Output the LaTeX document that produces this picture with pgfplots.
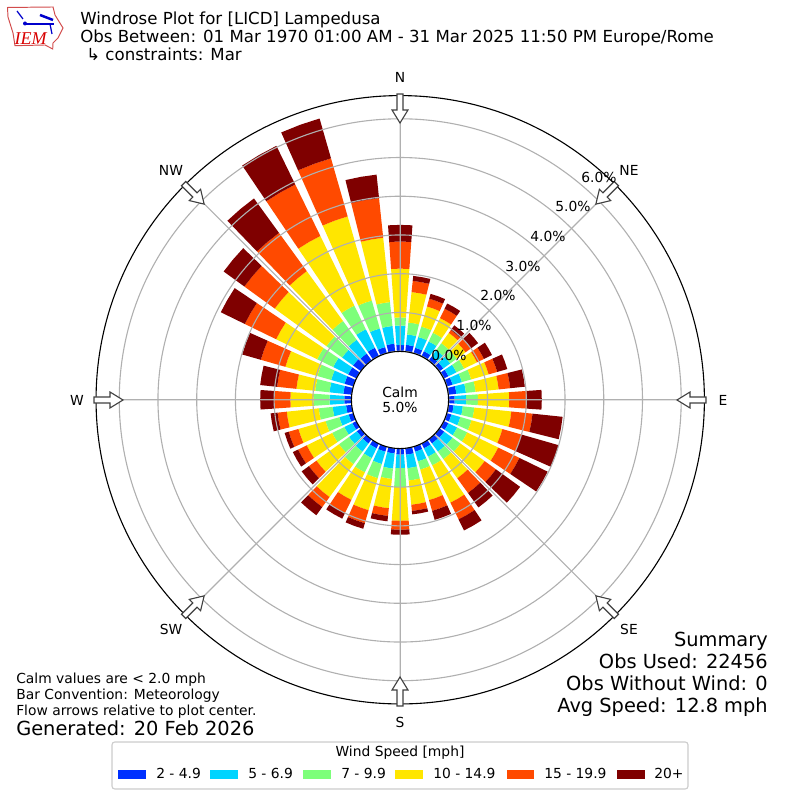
\documentclass[border=0pt]{standalone}
\usepackage{fontspec}
\setmainfont{DejaVu Sans}
\newfontfamily\logofont{Liberation Serif}
\usepackage{pgfplots}
\usepackage{pgfplotstable}
\pgfplotsset{compat=1.18}
\usepgfplotslibrary{polar}
\definecolor{wblue}{RGB}{0,48,255}
\definecolor{wcyan}{RGB}{0,212,255}
\definecolor{wgreen}{RGB}{125,255,122}
\definecolor{wyellow}{RGB}{255,230,0}
\definecolor{worange}{RGB}{255,74,0}
\definecolor{wdark}{RGB}{127,0,0}
\definecolor{gridgray}{RGB}{176,176,176}
% cumulative percent at the top of each speed bin, by direction
\pgfplotstableread{
dir b1 b2 b3 b4 b5 b6
0 0.16 0.66 0.87 2.13 2.83 3.26
10 0.17 0.44 0.75 1.54 1.83 1.96
20 0.14 0.43 0.71 1.25 1.46 1.59
30 0.14 0.42 0.67 1.09 1.36 1.51
40 0.12 0.33 0.55 0.88 0.97 1.12
50 0.12 0.34 0.55 0.83 1.00 1.23
60 0.13 0.36 0.58 0.95 1.15 1.38
70 0.15 0.40 0.65 1.12 1.35 1.62
80 0.20 0.45 0.70 1.30 1.60 1.98
90 0.15 0.45 0.75 1.56 2.02 2.40
100 0.13 0.37 0.67 1.63 2.18 2.96
110 0.12 0.36 0.66 1.49 2.00 3.00
120 0.13 0.38 0.67 1.56 2.17 2.98
130 0.15 0.41 0.67 1.44 1.80 2.57
140 0.14 0.40 0.64 1.25 1.72 2.18
150 0.14 0.38 0.63 1.70 2.18 2.50
160 0.14 0.40 0.62 1.44 1.73 1.97
170 0.17 0.52 0.84 1.47 1.63 1.72
180 0.16 0.51 1.00 1.87 2.10 2.23
190 0.14 0.53 0.80 1.56 1.76 1.90
200 0.14 0.47 0.85 1.71 2.06 2.21
210 0.14 0.42 0.83 1.62 2.00 2.16
220 0.14 0.40 0.80 1.85 2.17 2.43
230 0.13 0.38 0.70 1.42 1.66 1.89
240 0.12 0.35 0.70 1.43 1.68 1.83
250 0.13 0.38 0.75 1.48 1.74 1.85
260 0.15 0.50 0.86 1.69 1.93 2.11
270 0.19 0.57 0.98 1.58 2.00 2.36
280 0.22 0.58 0.95 1.44 1.94 2.38
290 0.24 0.60 0.97 1.83 2.49 2.99
300 0.24 0.67 1.13 2.31 3.21 3.90
310 0.25 0.60 1.10 2.75 3.72 4.38
320 0.22 0.66 1.26 2.85 4.07 5.17
330 0.24 0.77 1.45 3.45 4.93 6.04
340 0.16 0.66 1.41 3.67 5.23 6.30
350 0.20 0.66 1.28 2.95 3.98 4.59
}\windtable
\newcommand\windseg[4]{%
  \pgfmathsetmacro\thA{90-#1-4}%
  \pgfmathsetmacro\thM{90-#1}%
  \pgfmathsetmacro\thB{90-#1+4}%
  \pgfmathsetmacro\ra{#2+1.256}%
  \pgfmathsetmacro\rb{#3+1.256}%
  \edef\temp{\noexpand\addplot[fill=#4,draw=none,forget plot] coordinates {(\thA,\ra)(\thM,\ra)(\thB,\ra)(\thB,\rb)(\thM,\rb)(\thA,\rb)} -- cycle;}%
  \temp}
\newcommand\getv[3]{\pgfplotstablegetelem{#1}{#2}\of\windtable\let#3\pgfplotsretval}
\newcommand\fs[1]{\fontsize{#1}{#1}\selectfont}
\begin{document}
\begin{tikzpicture}[x=0.01in,y=0.01in]
\path[use as bounding box] (0,0) rectangle (800,800);
\begin{polaraxis}[
  at={(4in,4in)},anchor=center,
  scale only axis,width=6.08in,height=6.08in,
  xmin=0,xmax=360,ymin=0,ymax=7.855,
  xtick={0,45,...,315},xticklabels={},
  ytick={1.256,2.256,3.256,4.256,5.256,6.256,7.256},yticklabels={},
  grid=major,
  grid style={gridgray,line width=0.8pt},
  major tick length=0pt,
  axis on top,
  clip=false,
  axis line style={black,line width=0.8pt},
  y axis line style={draw=none},
]
\pgfplotsinvokeforeach{0,...,35}{%
  \getv{#1}{dir}\vd
  \getv{#1}{b1}\va
  \getv{#1}{b2}\vb
  \getv{#1}{b3}\vc
  \getv{#1}{b4}\ve
  \getv{#1}{b5}\vf
  \getv{#1}{b6}\vg
  \windseg{\vd}{0}{\va}{wblue}
  \windseg{\vd}{\va}{\vb}{wcyan}
  \windseg{\vd}{\vb}{\vc}{wgreen}
  \windseg{\vd}{\vc}{\ve}{wyellow}
  \windseg{\vd}{\ve}{\vf}{worange}
  \windseg{\vd}{\vf}{\vg}{wdark}
}
\end{polaraxis}
% hub
\fill[white,draw=black,line width=0.8pt] (400,400) circle (48.6);
\node[font=\fs{10},inner sep=0pt] at (400,408) {Calm};
\node[font=\fs{10},inner sep=0pt] at (400,393) {5.0\%};
% flow arrows
\foreach \a in {0,45,...,315}{
  \begin{scope}[shift={(400,400)},rotate=\a]
  \filldraw[fill=white,draw=black!75,line width=0.8pt,line join=miter]
    (-3,306)--(3,306)--(3,290)--(8,290)--(0,277)--(-8,290)--(-3,290)--cycle;
  \end{scope}
}
% direction labels
\foreach \x/\y/\t in {400/723/N,629/630/NE,723/400/E,629/171/SE,400/78/S,171/171/SW,77/400/W,171/630/NW}{
  \node[font=\fs{10},inner sep=0pt] at (\x,\y) {\t};
}
% radial labels
\foreach \x/\y/\t in {449/445/0.0,474/475/1.0,498/505/2.0,523/534/3.0,548/564/4.0,573/594/5.0,599/623/6.0}{
  \node[font=\fs{10},inner sep=0pt] at (\x,\y) {\t\%};
}
% title
\node[anchor=base west,font=\fs{12},inner sep=0pt] at (80,775) {Windrose Plot for [LICD] Lampedusa};
\node[anchor=base west,font=\fs{12},inner sep=0pt] at (80,757) {Obs Between: 01 Mar 1970 01:00 AM - 31 Mar 2025 11:50 PM Europe/Rome};
\node[anchor=base west,font=\fs{12},inner sep=0pt] at (86,739) {↳ constraints: Mar};
% notes
\node[anchor=base west,font=\fs{10},inner sep=0pt] at (16,116) {Calm values are < 2.0 mph};
\node[anchor=base west,font=\fs{10},inner sep=0pt] at (16,100) {Bar Convention: Meteorology};
\node[anchor=base west,font=\fs{10},inner sep=0pt] at (16,84) {Flow arrows relative to plot center.};
\node[anchor=base west,font=\fs{14},inner sep=0pt] at (16,64) {Generated: 20 Feb 2026};
% summary
\node[anchor=base east,font=\fs{14},inner sep=0pt] at (768,153) {Summary};
\node[anchor=base east,font=\fs{14},inner sep=0pt] at (768,131) {Obs Used: 22456};
\node[anchor=base east,font=\fs{14},inner sep=0pt] at (768,109) {Obs Without Wind: 0};
\node[anchor=base east,font=\fs{14},inner sep=0pt] at (768,87) {Avg Speed: 12.8 mph};
% legend
\draw[rounded corners=2pt,draw=black!20,fill=white,line width=0.8pt] (112,11) rectangle (688,58);
\node[font=\fs{10},inner sep=0pt,anchor=base] at (400,43) {Wind Speed [mph]};
\foreach \xa/\xb/\xl/\c/\t in {118/146/156/wblue/2 - 4.9,210/238/248/wcyan/5 - 6.9,303/331/341/wgreen/7 - 9.9,395/423/433/wyellow/10 - 14.9,507/534/544/worange/15 - 19.9,617/645/654/wdark/20+}{
  \fill[\c] (\xa,21) rectangle (\xb,30);
  \node[anchor=base west,font=\fs{10},inner sep=0pt] at (\xl,21) {\t};
}
% logo
\draw[red!75!black!70,line width=0.7pt,fill=white] (7.5,792.5)--(53,793)--(55,785)--(63,772)--(58,762)--(53,757)--(52.7,751)--(45,755)--(15,754.3)--(13,767)--(8,783)--cycle;
\draw[blue!80!black,line width=1.1pt] (25,776)--(54,776);
\fill[blue!80!black] (25,776.5) circle (2);
\draw[blue!80!black,line width=0.9pt] (17,789)--(23,781);
\draw[blue!80!black,line width=1.8pt] (40,785)--(53,780);
\draw[blue!80!black,line width=0.9pt] (50,776)--(52,766);
\node[font=\logofont\itshape\fs{13},text=red!85!black,inner sep=0pt] at (30.5,761.5) {IEM};
\end{tikzpicture}
\end{document}
